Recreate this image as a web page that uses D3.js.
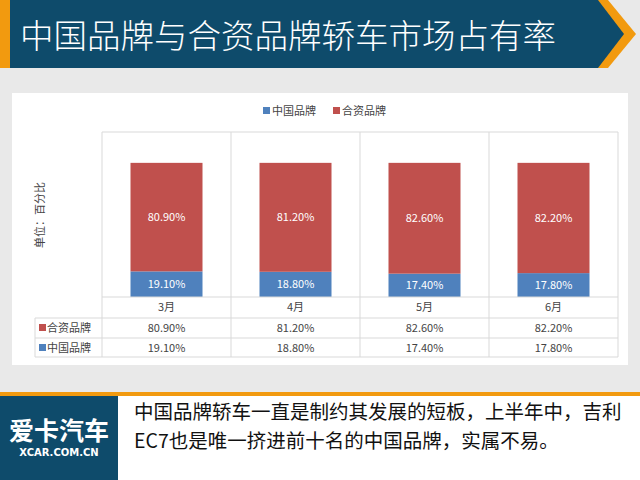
<!DOCTYPE html>
<html><head><meta charset="utf-8">
<script src="https://cdn.jsdelivr.net/npm/d3@7"></script>
<style>body{margin:0}svg{display:block;font-family:"Noto Sans CJK SC","Microsoft YaHei",sans-serif}</style>
</head><body><svg id="c" width="640" height="480"></svg>
<script>
var months = ["3月", "4月", "5月", "6月"];
var chinaBrand = [19.10, 18.80, 17.40, 17.80];
var jvBrand = [80.90, 81.20, 82.60, 82.20];
var seriesNames = ["中国品牌", "合资品牌"];
var colors = ["#4f81bd", "#c0504d"];

var svg = d3.select("#c");
var fmt = function(v) { return v.toFixed(2) + "%"; };

// background
svg.append("rect").attr("width", 640).attr("height", 480).attr("fill", "#e9e9e9");
// header band
svg.append("path").attr("d", "M0,0 L608,0 L636,34 L608,68 L0,68 Z").attr("fill", "#f29a0f");
svg.append("path").attr("d", "M0,0 L598,0 L624,34 L598,68 L0,68 Z").attr("fill", "#0e4b6b");
svg.append("rect").attr("x", 0).attr("y", 0).attr("width", 10).attr("height", 68).attr("fill", "#f29a0f");
svg.append("text").attr("x", 20).attr("y", 48).attr("fill", "#fff")
	.attr("font-size", 33.5).attr("font-weight", 300).text("中国品牌与合资品牌轿车市场占有率");

// white panel
svg.append("rect").attr("x", 12).attr("y", 93).attr("width", 616).attr("height", 272).attr("fill", "#fff");

// legend
seriesNames.forEach(function(n, i) {
	var lx = 263 + i * 70;
	svg.append("rect").attr("x", lx).attr("y", 107).attr("width", 7).attr("height", 7).attr("fill", colors[i]);
	svg.append("text").attr("x", lx + 9).attr("y", 115).attr("font-size", 11).attr("fill", "#444").text(n);
});

var x = d3.scaleBand().domain(months).range([102, 618]).paddingInner(0).paddingOuter(0);
var y = d3.scaleLinear().domain([0, 123]).range([297, 132]);
var grid = "#d9d9d9";

// column separators and plot outline
svg.append("g").selectAll("line").data(months.concat(["end"])).join("line")
	.attr("x1", function(d, i) { return 102 + i * x.bandwidth(); })
	.attr("x2", function(d, i) { return 102 + i * x.bandwidth(); })
	.attr("y1", 132).attr("y2", 357).attr("stroke", grid);
svg.append("line").attr("x1", 102).attr("x2", 618).attr("y1", 132).attr("y2", 132).attr("stroke", grid);

var bw = 72;
// stacked bars
var stacks = [chinaBrand, jvBrand];
stacks.forEach(function(vals, s) {
	var g = svg.append("g");
	vals.forEach(function(v, i) {
		var base = s === 0 ? 0 : chinaBrand[i];
		var cx = x(months[i]) + x.bandwidth() / 2;
		g.append("rect").attr("x", cx - bw / 2).attr("width", bw)
			.attr("y", y(base + v)).attr("height", y(base) - y(base + v)).attr("fill", colors[s]);
		g.append("text").attr("x", cx).attr("y", (y(base) + y(base + v)) / 2 + 4)
			.attr("text-anchor", "middle").attr("font-size", 11).attr("fill", "#fff").text(fmt(v));
	});
});

// data table
var rows = [{name: seriesNames[1], vals: jvBrand, c: colors[1]}, {name: seriesNames[0], vals: chinaBrand, c: colors[0]}];
var rowY = [297, 318, 338, 357];
rowY.forEach(function(ry, i) {
	svg.append("line").attr("x1", i === 0 ? 102 : 35).attr("x2", 618).attr("y1", ry).attr("y2", ry).attr("stroke", grid);
});
svg.append("line").attr("x1", 35).attr("x2", 35).attr("y1", 318).attr("y2", 357).attr("stroke", grid);
months.forEach(function(m) {
	svg.append("text").attr("x", x(m) + x.bandwidth() / 2).attr("y", 311).attr("text-anchor", "middle")
		.attr("font-size", 11).attr("fill", "#444").text(m);
});
rows.forEach(function(r, ri) {
	var ty = rowY[ri + 1] + 14;
	svg.append("rect").attr("x", 39).attr("y", ty - 8).attr("width", 7).attr("height", 7).attr("fill", r.c);
	svg.append("text").attr("x", 47).attr("y", ty).attr("font-size", 11).attr("fill", "#444").text(r.name);
	r.vals.forEach(function(v, i) {
		svg.append("text").attr("x", x(months[i]) + x.bandwidth() / 2).attr("y", ty).attr("text-anchor", "middle")
			.attr("font-size", 11).attr("fill", "#444").text(fmt(v));
	});
});

// axis title
svg.append("text").attr("transform", "translate(44,215) rotate(-90)").attr("text-anchor", "middle")
	.attr("font-size", 11).attr("fill", "#444").text("单位：百分比");

// footer
svg.append("rect").attr("x", 0).attr("y", 392).attr("width", 640).attr("height", 88).attr("fill", "#fff");
svg.append("rect").attr("x", 0).attr("y", 392).attr("width", 640).attr("height", 4).attr("fill", "#f29a0f");
svg.append("rect").attr("x", 0).attr("y", 396).attr("width", 118).attr("height", 84).attr("fill", "#0e4b6b");
svg.append("text").attr("x", 59).attr("y", 440).attr("text-anchor", "middle").attr("font-size", 25)
	.attr("font-weight", "bold").attr("fill", "#fff").text("爱卡汽车");
svg.append("text").attr("x", 59).attr("y", 456).attr("text-anchor", "middle").attr("font-size", 10)
	.attr("font-weight", "bold").attr("fill", "#fff").attr("font-family", "DejaVu Sans").text("XCAR.COM.CN");
svg.append("text").attr("x", 134).attr("y", 419).attr("font-size", 19.5).attr("fill", "#111")
	.text("中国品牌轿车一直是制约其发展的短板，上半年中，吉利");
svg.append("text").attr("x", 134).attr("y", 448).attr("font-size", 19.5).attr("fill", "#111")
	.text("EC7也是唯一挤进前十名的中国品牌，实属不易。");
</script></body></html>
